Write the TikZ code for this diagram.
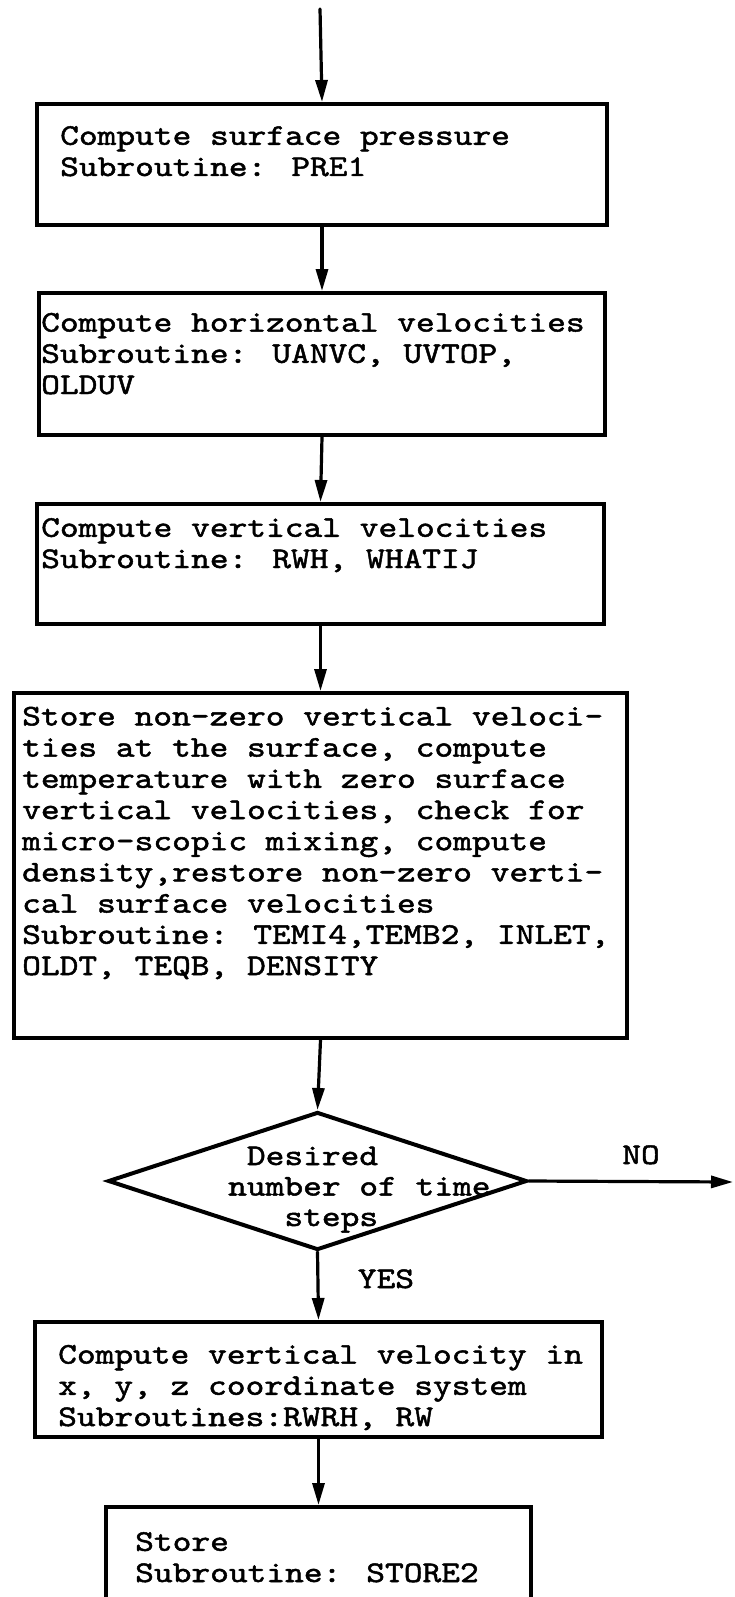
\documentclass[tikz,border=0pt]{standalone}
\usepackage{fontspec}
\newfontfamily\typew[FakeStretch=1.19,FakeBold=1.6]{lmmono10-regular.otf}
\usetikzlibrary{shapes.geometric,arrows.meta}
\begin{document}
\begin{tikzpicture}[x=1pt,y=-1pt,line cap=round,>={Triangle[length=22pt,width=12pt]},
	stepbox/.style={draw,line width=4pt,anchor=north west,inner sep=0pt},
	steptext/.style={anchor=base west,align=left,inner sep=0pt,font=\typew\fontsize{30}{31.2}\selectfont},
	flow/.style={->,line width=3.2pt}]
	\useasboundingbox (0,0) rectangle (734,1597);
	\clip (0,0) rectangle (734,1597);
	\coordinate (start) at (320,9);
	\coordinate (noend) at (733,1182);
	% boxes (text nodes sit on the baseline of their last line)
	\node[stepbox,minimum width=570pt,minimum height=121pt] (pres) at (35,102) {};
	\node[steptext] (prestxt) at (60,176) {Compute surface pressure\\Subroutine: PRE1};
	\node[stepbox,minimum width=566pt,minimum height=142pt] (horiz) at (37,291) {};
	\node[steptext] (horiztxt) at (41,394) {Compute horizontal velocities\\Subroutine: UANVC, UVTOP,\\OLDUV};
	\node[stepbox,minimum width=567pt,minimum height=120pt] (vert) at (35,502) {};
	\node[steptext] (verttxt) at (41,568) {Compute vertical velocities\\Subroutine: RWH, WHATIJ};
	\node[stepbox,minimum width=613pt,minimum height=345pt] (temp) at (12,691) {};
	\node[steptext] (temptxt) at (22,975) {Store non-zero vertical veloci-\\ties at the surface, compute\\temperature with zero surface\\vertical velocities, check for\\micro-scopic mixing, compute\\density,restore non-zero verti-\\cal surface velocities\\Subroutine: TEMI4,TEMB2, INLET,\\OLDT, TEQB, DENSITY};
	% test
	\node[draw,diamond,line width=4pt,inner sep=0pt,minimum width=419pt,minimum height=138pt] (check) at (317.5,1181) {};
	\node[steptext,font=\typew\fontsize{30}{30.5}\selectfont] (checktxt) at (228,1226) {\phantom{x}Desired\\number of time\\\phantom{xxx}steps};
	\node[steptext,anchor=base] (no) at (641,1164) {NO};
	\node[steptext,anchor=base] (yes) at (386,1288) {YES};
	\node[stepbox,minimum width=567pt,minimum height=115pt] (wxyz) at (33,1320) {};
	\node[steptext] (wxyztxt) at (58,1426) {Compute vertical velocity in\\x, y, z coordinate system\\Subroutines:RWRH, RW};
	\node[stepbox,minimum width=425pt,minimum height=140pt] (store) at (104,1505) {};
	\node[steptext] (storetxt) at (135,1582) {Store\\Subroutine: STORE2};
	% connectors
	\draw[flow] (start) -- (pres.north);
	\draw[flow] (pres.south) -- (horiz.north);
	\draw[flow] (horiz.south) -- (vert.north);
	\draw[flow] (vert.south) -- (temp.north);
	\draw[flow] (temp.south) -- (check.north);
	\draw[flow] (check.east) -- (noend);
	\draw[flow] (check.south) -- (wxyz.north);
	\draw[flow] (wxyz.south) -- (store.north);
\end{tikzpicture}
\end{document}
